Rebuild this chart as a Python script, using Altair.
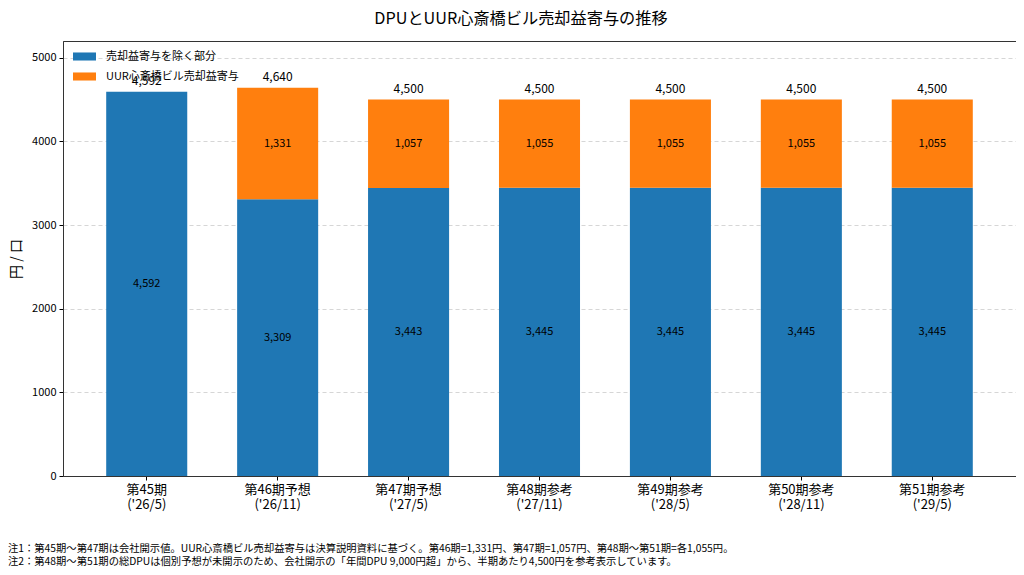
import altair as alt
import pandas as pd

FONT = "Noto Sans CJK JP"

periods = [
    "第45期\n('26/5)",
    "第46期予想\n('26/11)",
    "第47期予想\n('27/5)",
    "第48期参考\n('27/11)",
    "第49期参考\n('28/5)",
    "第50期参考\n('28/11)",
    "第51期参考\n('29/5)",
]
base_values = [4592, 3309, 3443, 3445, 3445, 3445, 3445]
sale_values = [0, 1331, 1057, 1055, 1055, 1055, 1055]
series_names = ["売却益寄与を除く部分", "UUR心斎橋ビル売却益寄与"]
series_colors = ["#1f77b4", "#ff7f0e"]
y_ticks = [0, 1000, 2000, 3000, 4000, 5000]
title_text = "DPUとUUR心斎橋ビル売却益寄与の推移"
y_title = "円 / 口"
notes = [
    "注1：第45期〜第47期は会社開示値。UUR心斎橋ビル売却益寄与は決算説明資料に基づく。第46期=1,331円、第47期=1,057円、第48期〜第51期=各1,055円。",
    "注2：第48期〜第51期の総DPUは個別予想が未開示のため、会社開示の「年間DPU 9,000円超」から、半期あたり4,500円を参考表示しています。",
]

rows = []
for p, b, s in zip(periods, base_values, sale_values):
    rows.append({"period": p, "series": series_names[0], "value": b, "order": 0})
    rows.append({"period": p, "series": series_names[1], "value": s, "order": 1})
df = pd.DataFrame(rows)

x_enc = alt.X(
    "period:N",
    sort=periods,
    scale=alt.Scale(paddingInner=0.381, paddingOuter=0.33),
    axis=alt.Axis(
        title=None,
        labelExpr="split(datum.label, '\\n')",
        labelAngle=0,
        labelFontSize=13,
        labelLineHeight=15,
        labelFont=FONT,
        labelColor="black",
        tickColor="black",
        tickSize=4,
        labelPadding=3,
        grid=False,
        domain=True,
        domainColor="#333333",
        domainWidth=1,
    ),
)
y_scale = alt.Scale(domain=[0, 5200], nice=False)
y_axis = alt.Axis(
    title=y_title,
    values=y_ticks,
    format="d",
    labelFontSize=11,
    labelFont=FONT,
    labelColor="black",
    tickColor="black",
    tickSize=4,
    labelPadding=3,
    domain=True,
    domainColor="#333333",
    domainWidth=1,
    grid=True,
    gridDash=[4, 3],
    gridColor="#cccccc",
    gridOpacity=0.8,
    titleFont=FONT,
    titleFontSize=14,
    titleFontWeight="normal",
    titleColor="black",
    titlePadding=8,
)

bars = alt.Chart(df).mark_bar().encode(
    x=x_enc,
    y=alt.Y("value:Q", stack="zero", scale=y_scale, axis=y_axis),
    color=alt.Color(
        "series:N",
        scale=alt.Scale(domain=series_names, range=series_colors),
        legend=alt.Legend(
            title=None,
            orient="none",
            legendX=10,
            legendY=4,
            symbolType="M-1,-0.35L1,-0.35L1,0.35L-1,0.35Z",
            symbolSize=529,
            symbolStrokeWidth=0,
            labelFont=FONT,
            labelFontSize=11,
            labelColor="black",
            labelOffset=10,
            rowPadding=3,
            padding=0,
        ),
    ),
    order=alt.Order("order:Q", sort="ascending"),
)

inner = (
    alt.Chart(df)
    .transform_stack(
        stack="value",
        groupby=["period"],
        sort=[alt.SortField("order", "ascending")],
        as_=["v0", "v1"],
    )
    .transform_filter("datum.value > 0")
    .transform_calculate(mid="(datum.v0 + datum.v1) / 2")
    .mark_text(font=FONT, fontSize=11, color="black", baseline="middle")
    .encode(
        x=x_enc,
        y=alt.Y("mid:Q", scale=y_scale, axis=y_axis),
        text=alt.Text("value:Q", format=","),
    )
)

totals = (
    alt.Chart(df)
    .transform_aggregate(total="sum(value)", groupby=["period"])
    .mark_text(font=FONT, fontSize=12, color="black", baseline="alphabetic", dy=-7)
    .encode(
        x=x_enc,
        y=alt.Y("total:Q", scale=y_scale, axis=y_axis),
        text=alt.Text("total:Q", format=","),
    )
)

title_layer = (
    alt.Chart(pd.DataFrame({"t": [title_text]}))
    .mark_text(font=FONT, fontSize=16.2, color="black", align="center", baseline="alphabetic")
    .encode(x=alt.value(458), y=alt.value(-17), text="t:N")
)

notes_layer = (
    alt.Chart(pd.DataFrame({"t": ["\n".join(notes)]}))
    .mark_text(
        font=FONT, fontSize=10.3, color="black", align="left",
        baseline="alphabetic", lineBreak="\n", lineHeight=12.5,
    )
    .encode(x=alt.value(-55), y=alt.value(511), text="t:N")
)

chart = (
    alt.layer(bars, inner, totals, title_layer, notes_layer)
    .properties(
        width=953,
        height=435,
        autosize=alt.AutoSizeParams(type="none"),
        padding={"left": 55, "top": 33, "right": 0, "bottom": 91},
    )
    .configure_view(stroke="#333333", strokeWidth=1)
)

chart.save("out.html", embed_options={"renderer": "svg", "actions": False})
